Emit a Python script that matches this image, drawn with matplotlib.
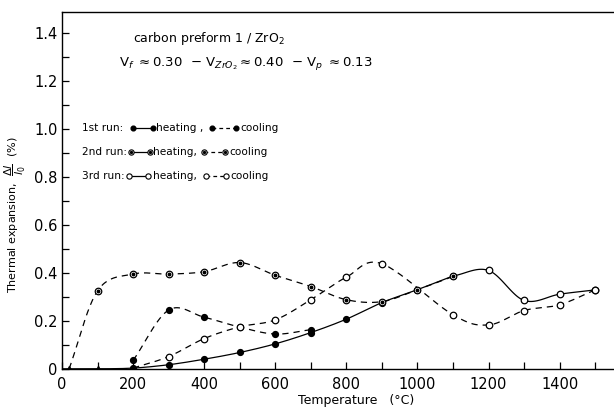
import numpy as np
import matplotlib
matplotlib.use("Agg")
import matplotlib.pyplot as plt
from matplotlib.lines import Line2D

plt.rcParams['font.family'] = ['Liberation Sans Narrow', 'DejaVu Sans']

# ---- data: temperature (deg C) and thermal expansion dl/l0 (%) ----
run1_heat_T = [0, 100, 200, 300, 400, 500, 600, 700, 800, 900, 1000, 1100]
run1_heat_dl = [0.0, 0.0, 0.003, 0.017, 0.040, 0.068, 0.104, 0.151, 0.207, 0.276, 0.330, 0.387]

run3_heat_T = [1100, 1200, 1300, 1400, 1500]
run3_heat_dl = [0.387, 0.410, 0.285, 0.311, 0.329]

run1_cool_T = [200, 300, 400, 500, 600, 700]
run1_cool_dl = [0.035, 0.245, 0.215, 0.174, 0.145, 0.163]

run2_cool_T = [20, 100, 200, 300, 400, 500, 600, 700, 800, 900, 1000, 1100]
run2_cool_dl = [0.0, 0.325, 0.395, 0.395, 0.405, 0.443, 0.390, 0.343, 0.288, 0.280, 0.330, 0.385]

run3_cool_T = [200, 300, 400, 500, 600, 700, 800, 900, 1100, 1200, 1300, 1400, 1500]
run3_cool_dl = [0.003, 0.051, 0.126, 0.175, 0.204, 0.288, 0.382, 0.438, 0.225, 0.183, 0.243, 0.267, 0.329]

start_T = [20, 100]
start_dl = [0.0, 0.0]

x_ticks = [0, 200, 400, 600, 800, 1000, 1200, 1400]
y_ticks = [0, 0.2, 0.4, 0.6, 0.8, 1.0, 1.2, 1.4]
y_ticklabels = ['0', '0.2', '0.4', '0.6', '0.8', '1.0', '1.2', '1.4']


def spline(xs, ys, n=24):
    """Catmull-Rom curve through the given points."""
    p = np.column_stack([xs, ys]).astype(float)
    p = np.vstack([2 * p[0] - p[1], p, 2 * p[-1] - p[-2]])
    out = []
    for i in range(1, len(p) - 2):
        p0, p1, p2, p3 = p[i - 1], p[i], p[i + 1], p[i + 2]
        t = np.linspace(0, 1, n, endpoint=False)[:, None]
        seg = 0.5 * ((2 * p1) + (-p0 + p2) * t + (2 * p0 - 5 * p1 + 4 * p2 - p3) * t ** 2
                     + (-p0 + 3 * p1 - 3 * p2 + p3) * t ** 3)
        out.append(seg)
    out.append(p[-2][None, :])
    c = np.vstack(out)
    return c[:, 0], c[:, 1]


fig = plt.figure(figsize=(6.14, 4.13), dpi=100)
ax = fig.add_axes([0.101, 0.107, 0.899, 0.864])

dash = (0, (5, 4))
lw = 0.9
ms = 4.2

# curves
ax.plot(*spline(run1_heat_T, run1_heat_dl), color='black', lw=lw)
ax.plot(*spline(run3_heat_T, run3_heat_dl), color='black', lw=lw)
ax.plot(*spline(run1_cool_T, run1_cool_dl), color='black', lw=lw, ls=dash)
ax.plot(*spline(run2_cool_T, run2_cool_dl), color='black', lw=lw, ls=dash)
ax.plot(*spline(run3_cool_T, run3_cool_dl), color='black', lw=lw, ls=dash)

# markers
ax.plot(run1_heat_T[2:], run1_heat_dl[2:], 'o', color='black', ms=ms)
ax.plot(run1_cool_T, run1_cool_dl, 'o', color='black', ms=ms)
ax.plot(run3_heat_T[1:], run3_heat_dl[1:], 'o', mfc='white', mec='black', mew=0.9, ms=ms + 0.5)
ax.plot(run3_cool_T[1:], run3_cool_dl[1:], 'o', mfc='white', mec='black', mew=0.9, ms=ms + 0.5)
ax.plot(run2_cool_T[1:], run2_cool_dl[1:], 'o', mfc='white', mec='black', mew=0.9, ms=ms + 0.5)
ax.plot(run2_cool_T[1:], run2_cool_dl[1:], 'o', color='black', ms=1.8)
ax.plot(start_T, start_dl, '^', color='black', ms=4)

# axes styling
ax.set_xlim(0, 1553)
ax.set_ylim(0, 1.4875)
ax.spines['right'].set_visible(False)
for s in ax.spines.values():
    s.set_linewidth(1.0)
ax.set_xticks(x_ticks)
ax.set_xticklabels([str(v) for v in x_ticks], fontsize=10.5)
ax.set_xticks(np.arange(100, 1550, 200), minor=True)
ax.set_yticks(y_ticks)
ax.set_yticklabels(y_ticklabels, fontsize=10.5)
ax.set_yticks(np.arange(0.1, 1.45, 0.2), minor=True)
ax.tick_params(which='both', direction='in', length=5, width=0.9, pad=3)
ax.tick_params(axis='x', pad=6)

fig.text(0.58, 0.015, 'Temperature   (°C)', fontsize=9, ha='center', va='bottom',
         fontfamily='DejaVu Sans')
fig.text(0.025, 0.48, r'Thermal expansion,  $\dfrac{\Delta l}{l_0}$  (%)', fontsize=8,
         rotation=90, ha='center', va='center', fontfamily='DejaVu Sans')

# annotation block
ax.text(0.129, 0.925, r'carbon preform 1 / ZrO$_2$', transform=ax.transAxes,
        fontsize=9, fontfamily='DejaVu Sans', va='center')
ax.text(0.103, 0.855, r'V$_f$ $\approx$0.30  $-$ V$_{ZrO_2}$$\approx$0.40  $-$ V$_p$ $\approx$0.13',
        transform=ax.transAxes, fontsize=9.5, fontfamily='DejaVu Sans', va='center')

rows = [
    ('1st run:', 'filled'),
    ('2nd run:', 'dot'),
    ('3rd run:', 'open'),
]
row_y = [128, 152, 176]


def px2ax(px, py):
    return (px - 62) / 552.0, (369 - py) / 357.0


def legend_glyph(x0, x1, py, kind, style):
    xa, ya = px2ax(x0, py)
    xb, _ = px2ax(x1, py)
    ax.add_line(Line2D([xa, xb], [ya, ya], transform=ax.transAxes, color='black', lw=lw,
                       ls='-' if style == 'solid' else (0, (3, 2.5))))
    for xm in (xa, xb):
        if kind == 'filled':
            ax.plot([xm], [ya], 'o', color='black', ms=3.4, transform=ax.transAxes)
        else:
            ax.plot([xm], [ya], 'o', mfc='white', mec='black', mew=0.8, ms=3.8,
                    transform=ax.transAxes)
            if kind == 'dot':
                ax.plot([xm], [ya], 'o', color='black', ms=1.4, transform=ax.transAxes)


text_x = [(82, 133, 153, 156, 212, 236, 240),
          (82, 131, 150, 153, 204, 225, 229),
          (82, 129, 148, 153, 206, 226, 230)]
fs_leg = 7.6
for (label, kind), py, xs in zip(rows, row_y, text_x):
    x_lab, g1a, g1b, x_heat, g2a, g2b, x_cool = xs
    ax.text(*px2ax(x_lab, py), label, transform=ax.transAxes, fontsize=fs_leg,
            fontfamily='DejaVu Sans', va='center')
    legend_glyph(g1a, g1b, py, kind, 'solid')
    ax.text(*px2ax(x_heat, py), 'heating ,' if py == 128 else 'heating,',
            transform=ax.transAxes, fontsize=fs_leg, fontfamily='DejaVu Sans', va='center')
    legend_glyph(g2a, g2b, py, kind, 'dashed')
    ax.text(*px2ax(x_cool, py), 'cooling', transform=ax.transAxes, fontsize=fs_leg,
            fontfamily='DejaVu Sans', va='center')

fig.savefig('out.png', dpi=100)
